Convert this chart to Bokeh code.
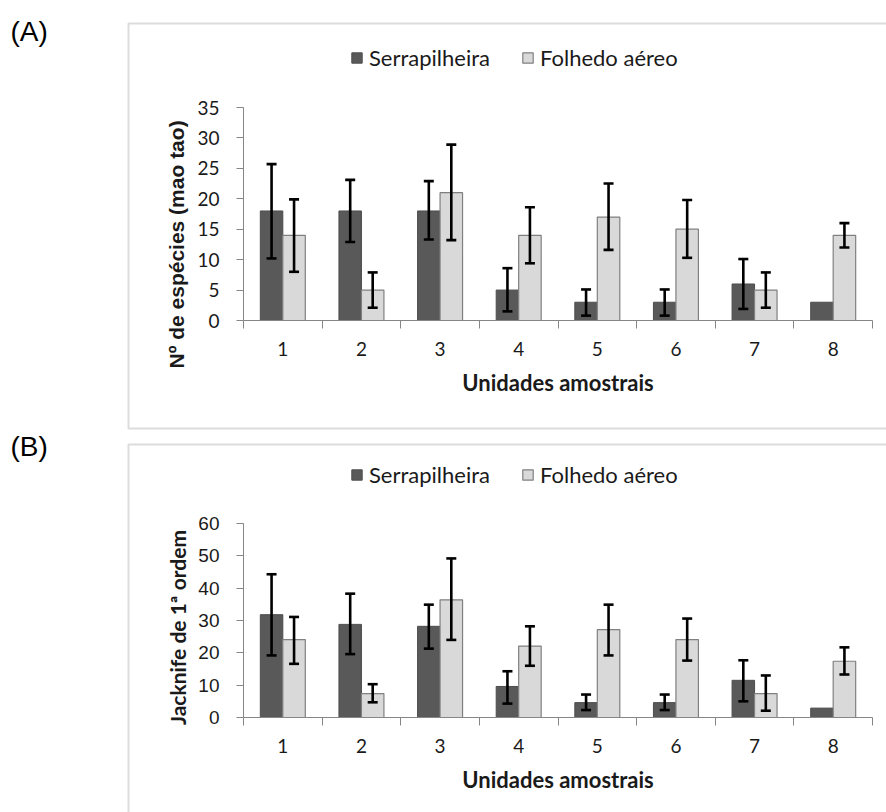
import math
from bokeh.plotting import figure
from bokeh.models import (ColumnDataSource, Range1d, FixedTicker, Whisker, TeeHead,
                          Legend, LegendItem, Label, BoxAnnotation, LinearAxis)
from bokeh.layouts import column
from bokeh.embed import file_html
from bokeh.resources import INLINE

# ---------------- data ----------------
unidades = [1, 2, 3, 4, 5, 6, 7, 8]
series_names = ["Serrapilheira", "Folhedo aéreo"]
x_title = "Unidades amostrais"

# (A) Nº de espécies (mao tao)
serr_A = [18, 18, 18, 5, 3, 3, 6, 3]
serr_A_lo = [10.2, 12.9, 13.3, 1.5, 0.8, 0.8, 1.9, None]
serr_A_hi = [25.7, 23.1, 22.9, 8.6, 5.1, 5.1, 10.1, None]
folh_A = [14, 5, 21, 14, 17, 15, 5, 14]
folh_A_lo = [8.0, 2.1, 13.2, 9.4, 11.6, 10.3, 2.1, 12.0]
folh_A_hi = [19.9, 7.9, 28.9, 18.6, 22.5, 19.8, 7.9, 16.0]
yticks_A = [0, 5, 10, 15, 20, 25, 30, 35]
ytitle_A = "Nº de espécies  (mao tao)"

# (B) Jacknife de 1ª ordem
serr_B = [31.8, 28.8, 28.2, 9.6, 4.6, 4.6, 11.5, 2.9]
serr_B_lo = [19.2, 19.6, 21.3, 4.3, 2.3, 2.3, 5.0, None]
serr_B_hi = [44.3, 38.3, 34.9, 14.3, 7.1, 7.1, 17.7, None]
folh_B = [24.1, 7.4, 36.4, 22.1, 27.2, 24.1, 7.4, 17.4]
folh_B_lo = [16.6, 4.7, 24.0, 16.0, 19.2, 17.6, 2.1, 13.3]
folh_B_hi = [31.1, 10.3, 49.2, 28.2, 34.9, 30.6, 13.0, 21.7]
yticks_B = [0, 10, 20, 30, 40, 50, 60]
ytitle_B = "Jacknife de 1ª ordem"

DARK = "#595959"
LIGHT = "#d9d9d9"
AXIS_GRAY = "#868686"
TXT = "#1a1a1a"
BAR_W = 0.286
OFF = 0.143
W = 886


def make_panel(letter, H, px_top, px_bottom, vals_s, lo_s, hi_s, vals_f, lo_f, hi_f,
               yticks, ytitle, ytitle_font, ytitle_size, ytitle_pos, ytick_font,
               box_top, box_bottom, legend_loc, letter_y):
    # plot area of the axes: x 0.5..8.5 at px 243..872, y at px_top..px_bottom
    px_left, px_right = 243, 872
    x0, x1 = 0.5, 8.5
    kx = (px_right - px_left) / (x1 - x0)
    y0, y1 = yticks[0], yticks[-1]
    ky = (px_bottom - px_top) / (y1 - y0)
    xr = Range1d(x0 - px_left / kx, x1 + (W - px_right) / kx)
    yr = Range1d(y0 - (H - px_bottom) / ky, y1 + px_top / ky)

    p = figure(width=W, height=H, output_backend="svg", toolbar_location=None,
               x_range=xr, y_range=yr, title=None,
               x_axis_location=None, y_axis_location=None,
               min_border=0, min_border_left=0, min_border_right=0,
               min_border_top=0, min_border_bottom=0)
    p.xgrid.visible = False
    p.ygrid.visible = False
    p.outline_line_color = None
    p.background_fill_color = "white"
    p.border_fill_color = "white"

    xs = [u - OFF for u in unidades]
    xf = [u + OFF for u in unidades]
    src_s = ColumnDataSource(dict(x=xs, top=vals_s))
    src_f = ColumnDataSource(dict(x=xf, top=vals_f))
    r_s = p.vbar(x="x", top="top", bottom=0, width=BAR_W, source=src_s,
                 fill_color=DARK, line_color="#4d4d4d", line_width=1)
    r_f = p.vbar(x="x", top="top", bottom=0, width=BAR_W, source=src_f,
                 fill_color=LIGHT, line_color="#808080", line_width=1.2)

    for xv, lo, hi in ((xs, lo_s, hi_s), (xf, lo_f, hi_f)):
        keep = [i for i in range(len(xv)) if lo[i] is not None]
        ws = ColumnDataSource(dict(base=[xv[i] for i in keep],
                                   lower=[lo[i] for i in keep],
                                   upper=[hi[i] for i in keep]))
        w = Whisker(base="base", lower="lower", upper="upper", source=ws,
                    dimension="height", line_color="black", line_width=2.6,
                    level="overlay",
                    upper_head=TeeHead(size=10, line_color="black", line_width=2.6),
                    lower_head=TeeHead(size=10, line_color="black", line_width=2.6))
        p.add_layout(w)

    # x axis at y = 0: labels at centres, tick marks at category boundaries
    xa = LinearAxis(fixed_location=y0, bounds=(x0, x1))
    xa.ticker = FixedTicker(ticks=unidades, minor_ticks=[u - 0.5 for u in unidades] + [8.5])
    xa.major_tick_out = 0
    xa.major_tick_in = 0
    xa.minor_tick_out = 8
    xa.minor_tick_in = 0
    xa.axis_line_color = AXIS_GRAY
    xa.minor_tick_line_color = AXIS_GRAY
    xa.major_label_text_font = "Lato"
    xa.major_label_text_font_size = "19px"
    xa.major_label_text_color = TXT
    xa.major_label_standoff = 13
    xa.axis_label = x_title
    xa.axis_label_text_font = "Lato"
    xa.axis_label_text_font_style = "bold"
    xa.axis_label_text_font_size = "22px"
    xa.axis_label_text_color = TXT
    xa.axis_label_standoff = 10
    p.add_layout(xa, "below")

    ya = LinearAxis(fixed_location=x0, bounds=(y0, y1))
    ya.ticker = FixedTicker(ticks=yticks)
    ya.major_tick_out = 7
    ya.major_tick_in = 0
    ya.minor_tick_out = 0
    ya.minor_tick_in = 0
    ya.axis_line_color = AXIS_GRAY
    ya.major_tick_line_color = AXIS_GRAY
    ya.major_label_text_font = ytick_font
    ya.major_label_text_font_size = "19px"
    ya.major_label_text_color = TXT
    ya.major_label_standoff = 17
    p.add_layout(ya, "left")

    p.add_layout(Label(x=ytitle_pos[0], y=ytitle_pos[1], x_units="canvas", y_units="canvas",
                       text=ytitle, angle=math.pi / 2, text_align="center",
                       text_baseline="middle", text_font=ytitle_font,
                       text_font_style="bold", text_font_size=ytitle_size,
                       text_color=TXT))

    legend = Legend(items=[LegendItem(label=series_names[0], renderers=[r_s]),
                           LegendItem(label=series_names[1], renderers=[r_f])],
                    orientation="horizontal", location=legend_loc,
                    border_line_color=None, background_fill_alpha=0,
                    padding=0, margin=0, spacing=31, label_standoff=6,
                    glyph_width=13, glyph_height=13,
                    label_text_font="Lato", label_text_font_size="22px",
                    label_text_color=TXT)
    p.add_layout(legend)

    p.add_layout(BoxAnnotation(left=128, right=3000, top=box_top, bottom=box_bottom,
                               left_units="canvas", right_units="canvas",
                               top_units="canvas", bottom_units="canvas",
                               fill_alpha=0, line_color="#8c8c8c", line_width=2,
                               level="underlay"))
    p.add_layout(Label(x=10, y=letter_y, x_units="canvas", y_units="canvas",
                       text=letter, text_font="Liberation Sans", text_font_size="28px",
                       text_baseline="top", text_color="black"))
    return p


pA = make_panel("(A)", 430, 107, 320, serr_A, serr_A_lo, serr_A_hi,
                folh_A, folh_A_lo, folh_A_hi, yticks_A, ytitle_A,
                "Liberation Sans", "21px", (176, 241), "Lato",
                23, 428, (350, 359), 15)
pB = make_panel("(B)", 382, 93, 287, serr_B, serr_B_lo, serr_B_hi,
                folh_B, folh_B_lo, folh_B_hi, yticks_B, ytitle_B,
                "Lato", "21px", (177, 197), "Liberation Sans",
                14, 3000, (350, 324), 0)

layout = column(pA, pB, spacing=0)
open("out.html", "w").write(file_html(layout, INLINE))
